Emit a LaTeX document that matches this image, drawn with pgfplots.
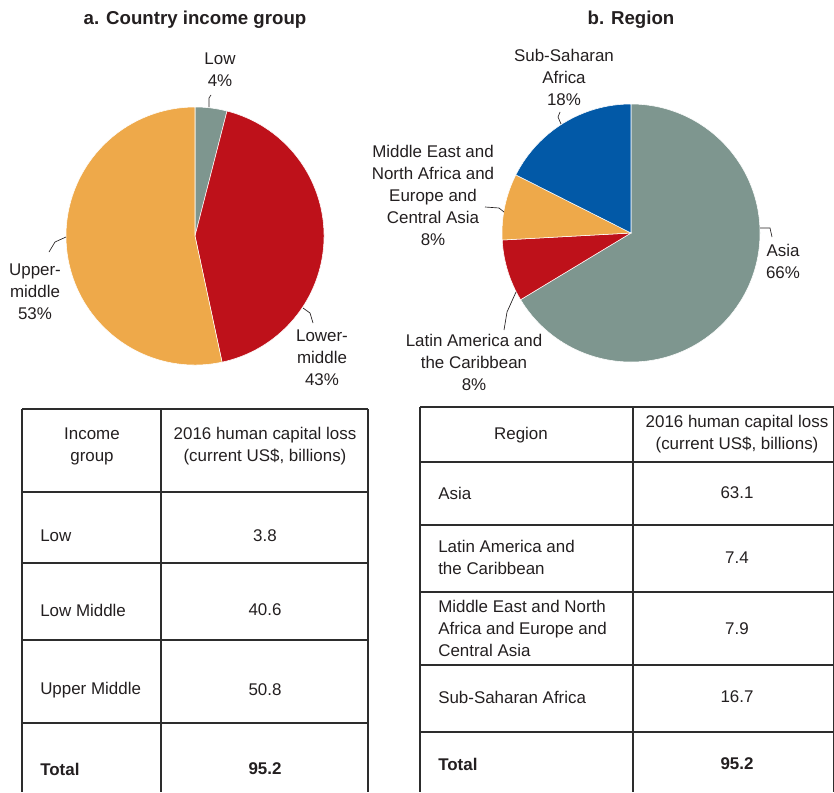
\documentclass[border=0pt]{standalone}
\usepackage{pgfplots}
\usepackage{pgfplotstable}
\pgfplotsset{compat=1.18}
\usepackage{fontspec}
\setmainfont{Liberation Sans}

\definecolor{pgray}{RGB}{126,150,143}
\definecolor{pred}{RGB}{190,17,26}
\definecolor{porange}{RGB}{238,169,74}
\definecolor{pblue}{RGB}{2,89,167}
\definecolor{txt}{RGB}{35,31,32}
\definecolor{rule}{RGB}{45,45,45}

\pgfplotstableread{
group value color
Low 3.8 pgray
LowerMiddle 40.6 pred
UpperMiddle 50.8 porange
}\incometab

\pgfplotstableread{
region value color
Asia 63.1 pgray
LAC 7.4 pred
MENAECA 7.9 porange
SSA 16.7 pblue
}\regiontab

% pie from a table, clockwise from 12 o'clock; #2,#3 centre (px), #4 radius
\newcommand\pie[4]{%
  \pgfplotstablegetrowsof{#1}%
  \pgfmathtruncatemacro\lastrow{\pgfplotsretval-1}%
  \def\tot{0}%
  \pgfplotsforeachungrouped \i in {0,...,\lastrow}{%
    \pgfplotstablegetelem{\i}{value}\of{#1}%
    \pgfmathsetmacro\tot{\tot+\pgfplotsretval}}%
  \def\ang{90}%
  \pgfplotsforeachungrouped \i in {0,...,\lastrow}{%
    \pgfplotstablegetelem{\i}{value}\of{#1}%
    \pgfmathsetmacro\angb{\ang-360*(\pgfplotsretval/\tot)}%
    \pgfplotstablegetelem{\i}{color}\of{#1}%
    \edef\col{\pgfplotsretval}%
    \edef\temp{\noexpand\pgfplotsextra{%
      \noexpand\pgfscope
      \noexpand\pgfpathmoveto{\noexpand\pgfplotspointaxisxy{#2}{#3}}%
      \noexpand\pgfpathlineto{\noexpand\pgfpointadd{\noexpand\pgfplotspointaxisxy{#2}{#3}}{\noexpand\pgfpointpolar{\ang}{#4}}}%
      \noexpand\pgfpatharc{\ang}{\angb}{#4}%
      \noexpand\pgfpathclose
      \noexpand\pgfsetfillcolor{\col}\noexpand\pgfsetstrokecolor{white}\noexpand\pgfsetlinewidth{0.4pt}%
      \noexpand\pgfusepath{fill,stroke}%
      \noexpand\endpgfscope}}%
    \temp
    \let\ang\angb}%
}

\newcommand\bodyfont{\fontsize{12.7}{16.5}\selectfont}
\tikzset{
  lbl/.style={font=\bodyfont, text=txt, inner sep=0pt},
  lblb/.style={font=\bodyfont\bfseries, text=txt, inner sep=0pt},
}

\begin{document}
\begin{tikzpicture}
\begin{axis}[
    x=0.75pt, y=0.75pt,
    xmin=0, xmax=834, ymin=0, ymax=792,
    y dir=reverse,
    hide axis,
    clip=false,
  ]
  \coordinate (tl) at (axis cs:0,0);
  \coordinate (br) at (axis cs:834,792);

  % titles
  \node[text=txt, font=\fontsize{14}{16}\selectfont\bfseries] at (axis cs:195,20) {a. Country income group};
  \node[text=txt, font=\fontsize{14}{16}\selectfont\bfseries] at (axis cs:631,20) {b. Region};

  % pies
  \pie{\incometab}{195}{236}{96.75pt}
  \pie{\regiontab}{631}{233}{96.75pt}

  % leader lines
  \begin{scope}[draw=txt, line width=0.5pt]
    \draw (axis cs:209,107) -- (axis cs:209,98) -- (axis cs:211,95);
    \draw (axis cs:66,237) -- (axis cs:55,242) -- (axis cs:49,252);
    \draw (axis cs:303,308) -- (axis cs:310,313) -- (axis cs:313,323);
    \draw (axis cs:561,124) -- (axis cs:558,117) -- (axis cs:560,112);
    \draw (axis cs:504,212) -- (axis cs:499,208) -- (axis cs:485,207);
    \draw (axis cs:760,228) -- (axis cs:770,228) -- (axis cs:772,237);
    \draw (axis cs:516,292) -- (axis cs:507,312) -- (axis cs:504,330);
  \end{scope}

  % pie labels
  \node[lbl, align=center] at (axis cs:220,70) {Low\\4\%};
  \node[lbl, align=center] at (axis cs:35,292) {Upper-\\middle\\53\%};
  \node[lbl, align=center] at (axis cs:322,358) {Lower-\\middle\\43\%};
  \node[lbl, align=center] at (axis cs:564,77) {Sub-Saharan\\Africa\\18\%};
  \node[lbl, align=center] at (axis cs:433,195) {Middle East and\\North Africa and\\Europe and\\Central Asia\\8\%};
  \node[lbl, align=center] at (axis cs:783,261) {Asia\\66\%};
  \node[lbl, align=center] at (axis cs:474,362) {Latin America and\\the Caribbean\\8\%};

  % table rules
  \pgfplotsinvokeforeach{409,492,563,640,723}{
    \draw[rule, line width=1pt] (axis cs:22,#1) -- (axis cs:368,#1);}
  \pgfplotsinvokeforeach{22,161,368}{
    \draw[rule, line width=1pt] (axis cs:#1,409) -- (axis cs:#1,792);}
  \pgfplotsinvokeforeach{407,462,525,592,665,732}{
    \draw[rule, line width=1pt] (axis cs:420,#1) -- (axis cs:834,#1);}
  \pgfplotsinvokeforeach{420,633,833.5}{
    \draw[rule, line width=1pt] (axis cs:#1,407) -- (axis cs:#1,792);}

  \node[lbl, align=center] at (axis cs:92,446) {Income\\group};
  \node[lbl, align=center] at (axis cs:265,446) {2016 human capital loss\\(current US\$, billions)};
  \node[lbl, anchor=west] at (axis cs:40,536) {Low};
  \node[lbl] at (axis cs:265,536) {3.8};
  \node[lbl, anchor=west] at (axis cs:40,610) {Low Middle};
  \node[lbl] at (axis cs:265,610) {40.6};
  \node[lbl, anchor=west] at (axis cs:40,690) {Upper Middle};
  \node[lbl] at (axis cs:265,690) {50.8};
  \node[lblb, anchor=west] at (axis cs:40,769) {Total};
  \node[lblb] at (axis cs:265,769) {95.2};

  \node[lbl] at (axis cs:521,435) {Region};
  \node[lbl, align=center] at (axis cs:737,434) {2016 human capital loss\\(current US\$, billions)};
  \node[lbl, anchor=west] at (axis cs:438,493) {Asia};
  \node[lbl] at (axis cs:737,493) {63.1};
  \node[lbl, anchor=west, align=left] at (axis cs:438,557.5) {Latin America and\\the Caribbean};
  \node[lbl] at (axis cs:737,558) {7.4};
  \node[lbl, anchor=west, align=left] at (axis cs:438,628) {Middle East and North\\Africa and Europe and\\Central Asia};
  \node[lbl] at (axis cs:737,629) {7.9};
  \node[lbl, anchor=west] at (axis cs:438,697) {Sub-Saharan Africa};
  \node[lbl] at (axis cs:737,697) {16.7};
  \node[lblb, anchor=west] at (axis cs:438,764) {Total};
  \node[lblb] at (axis cs:737,764) {95.2};

\end{axis}
\pgfresetboundingbox
\path[use as bounding box] (tl) rectangle (br);
\end{tikzpicture}
\end{document}
